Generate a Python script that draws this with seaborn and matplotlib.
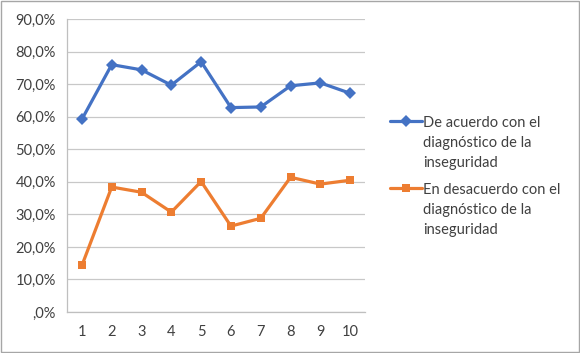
import pandas as pd
import seaborn as sns
import matplotlib.pyplot as plt
import numpy as np
from matplotlib.ticker import FuncFormatter, FixedLocator

# data
items = [1, 2, 3, 4, 5, 6, 7, 8, 9, 10]
de_acuerdo = [0.592, 0.760, 0.744, 0.697, 0.769, 0.628, 0.630, 0.695, 0.704, 0.672]
en_desacuerdo = [0.143, 0.384, 0.368, 0.307, 0.401, 0.264, 0.288, 0.414, 0.393, 0.405]
series_names = ["De acuerdo con el\ndiagnóstico de la\ninseguridad",
                "En desacuerdo con el\ndiagnóstico de la\ninseguridad"]

df = pd.DataFrame({
    "item": items * 2,
    "valor": de_acuerdo + en_desacuerdo,
    "serie": [series_names[0]] * len(items) + [series_names[1]] * len(items),
})

sns.set_style("white")
plt.rcParams['font.family'] = ['Lato', 'DejaVu Sans']

fig = plt.figure(figsize=(5.8, 3.53), dpi=100)
ax = fig.add_axes([0.1155, 0.116, 0.514, 0.830])

palette = {series_names[0]: "#4472C4", series_names[1]: "#ED7D31"}
markers = {series_names[0]: "D", series_names[1]: "s"}
sns.lineplot(data=df, x="item", y="valor", hue="serie", style="serie",
             palette=palette, markers=markers, dashes=False,
             markersize=6, linewidth=2.3, markeredgewidth=0, ax=ax)

ax.set_xlim(0.5, 10.5)
ax.set_ylim(0, 0.9)
ax.set_yticks(np.arange(0, 0.91, 0.1))
ax.yaxis.set_major_formatter(FuncFormatter(
    lambda v, p: ",0%" if v < 1e-9 else f"{v*100:.1f}%".replace(".", ",")))
ax.set_xticks(items)
ax.xaxis.set_minor_locator(FixedLocator(np.arange(0.5, 11, 1)))
ax.tick_params(axis="x", which="major", length=0, pad=9, labelsize=10.5, colors="#404040")
ax.tick_params(axis="x", which="minor", length=5, color="#BFBFBF", direction="out")
ax.tick_params(axis="y", length=0, pad=8, labelsize=10.5, colors="#404040")
ax.grid(axis="y", color="#C8C8C8", linewidth=0.9)
ax.set_axisbelow(True)
for s in ["top", "right"]:
    ax.spines[s].set_visible(False)
for s in ["left", "bottom"]:
    ax.spines[s].set_color("#BFBFBF")
    ax.spines[s].set_linewidth(0.9)
ax.set_xlabel("")
ax.set_ylabel("")

handles, labels = ax.get_legend_handles_labels()
ax.get_legend().remove()
leg = fig.legend(handles, labels, loc="center left", bbox_to_anchor=(0.650, 0.50),
                 frameon=False, fontsize=10.5, handlelength=2.2, handletextpad=0.05,
                 labelspacing=0.85, labelcolor="#404040")
for t in leg.get_texts():
    t.set_linespacing(1.55)
# put the legend marker next to the first text line, like Excel does
for col in leg._legend_handle_box.get_children():
    for row in col.get_children():
        row.align = "top"

fig.patches.append(plt.Rectangle((0.002, 0.003), 0.996, 0.994, transform=fig.transFigure,
                                 fill=False, edgecolor="#A6A6A6", linewidth=1))

fig.savefig("out.png", dpi=100)
